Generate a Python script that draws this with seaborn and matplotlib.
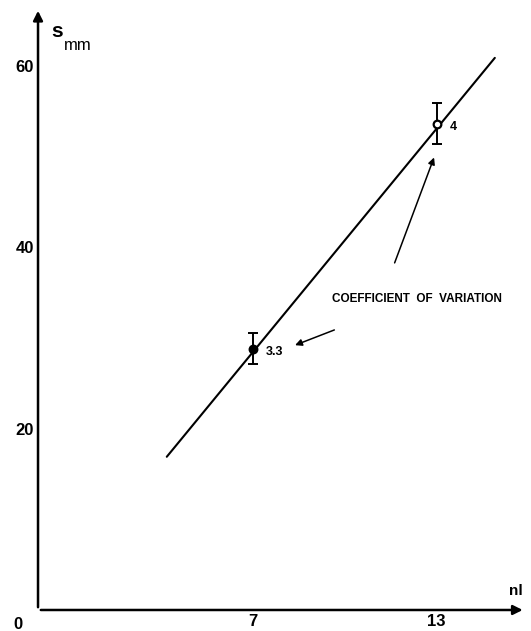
import matplotlib
matplotlib.use("Agg")
import matplotlib.pyplot as plt
import seaborn as sns
import pandas as pd

# measured points with error bars
nl = [7, 13]
s_mm = [28.8, 53.6]
err_lo = [1.7, 2.2]
err_hi = [1.7, 2.3]
cv_labels = ["3.3", "4"]
point_fill = ["black", "white"]

# fitted line endpoints
fit_nl = [4.2, 14.9]
fit_s = [16.9, 60.9]

x_ticks = [7, 13]
y_ticks = [20, 40, 60]

sns.set_style("white")
plt.rcParams["font.family"] = ["Liberation Sans", "DejaVu Sans"]
plt.rcParams["text.color"] = "black"
plt.rcParams["xtick.color"] = "black"
plt.rcParams["ytick.color"] = "black"

fig = plt.figure(figsize=(5.31, 6.31), dpi=100)
ax = fig.add_axes([0.0716, 0.0333, 0.918, 0.954])
ax.set_xlim(0, 15.9)
ax.set_ylim(0, 66.4)

fit = pd.DataFrame({"nl": fit_nl, "s": fit_s})
sns.lineplot(data=fit, x="nl", y="s", color="black", lw=1.5, ax=ax)

ax.errorbar(nl, s_mm, yerr=[err_lo, err_hi], fmt="none", ecolor="black",
            elinewidth=1.4, capsize=3.5, capthick=1.4)
for x, y, fc in zip(nl, s_mm, point_fill):
    ax.plot(x, y, "o", ms=5.5, mfc=fc, mec="black", mew=1.6)
for x, y, lab in zip(nl, s_mm, cv_labels):
    ax.text(x + 0.42, y - 0.3, lab, fontsize=9, fontweight="bold", va="center")

# axes drawn as arrows
for sp in ax.spines.values():
    sp.set_visible(False)
ax.annotate("", xy=(15.9, 0), xytext=(0, 0),
            arrowprops=dict(arrowstyle="-|>", lw=1.8, color="black", mutation_scale=14),
            annotation_clip=False)
ax.annotate("", xy=(0, 66.4), xytext=(0, 0),
            arrowprops=dict(arrowstyle="-|>", lw=1.8, color="black", mutation_scale=14),
            annotation_clip=False)

ax.set_xticks(x_ticks)
ax.set_xticklabels([str(t) for t in x_ticks], fontsize=12, fontweight="bold", color="black")
ax.set_yticks(y_ticks)
ax.set_yticklabels([str(t) for t in y_ticks], fontsize=12, fontweight="bold", color="black")
ax.tick_params(length=0, pad=3)
ax.set_xlabel("")
ax.set_ylabel("")

ax.text(-0.65, -0.8, "0", fontsize=12, fontweight="bold", ha="center", va="top")
ax.text(15.6, 1.3, "nl", fontsize=11, fontweight="bold", ha="center", va="bottom")
ax.text(0.42, 63.8, "s", fontsize=15, fontweight="bold", va="center")
ax.text(0.85, 62.3, "mm", fontsize=12, va="center")

ax.text(9.6, 34.3, "COEFFICIENT  OF  VARIATION", fontsize=8.5, fontweight="bold", va="center")
ax.annotate("", xy=(12.95, 50.2), xytext=(11.6, 38.0),
            arrowprops=dict(arrowstyle="-|>", lw=1.1, color="black", mutation_scale=10))
ax.annotate("", xy=(8.3, 29.1), xytext=(9.75, 31.0),
            arrowprops=dict(arrowstyle="-|>", lw=1.1, color="black", mutation_scale=10))

fig.savefig("out.png", dpi=100)
